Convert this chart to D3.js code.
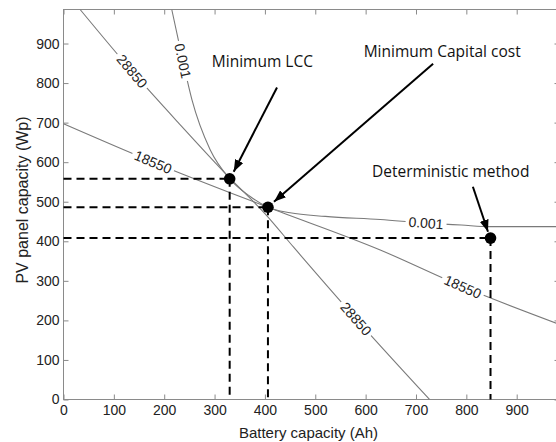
<!DOCTYPE html>
<html><head><meta charset="utf-8">
<script src="https://cdn.jsdelivr.net/npm/d3@7"></script>
<style>body{margin:0;background:#fff}svg{display:block}</style>
</head><body>
<svg id="chart" width="556" height="442"></svg>
<script>
// ---- data ----
const xTicks = [0,100,200,300,400,500,600,700,800,900];
const yTicks = [0,100,200,300,400,500,600,700,800,900];
const xLimits = [0, 985];
const yLimits = [0, 986];
const xLabel = "Battery capacity (Ah)";
const yLabel = "PV panel capacity (Wp)";

// contour lines [battery Ah, PV Wp]
const curve28850 = [[33,986],[136,830],[230,697],[330,560],[400,470],[457,385],[581,204],[727,0]];
const curve0001  = [[215,986],[237,856],[255,758],[291,632],[330,558],[370,514],[406,486],[450,472],[520,463],[629,455],[720,446],[790,441],[848,437],[985,437]];
const curve18550 = [[0,697],[178,600],[406,486],[629,378],[793,285],[985,190]];

const contourLabels = ["28850","0.001","18550","28850","18550","0.001"];
const contourLabelCurve = ["c28850","c0001","c18550","c28850","c18550","c0001"];
const contourLabelX = [136, 237, 178, 581, 793, 720];

// design points
const designX = [330, 406, 848];
const designY = [558, 486, 408];

// annotations
const annotationText = ["Minimum LCC","Minimum Capital cost","Deterministic method"];
const annotationX = [395, 752, 769];
const annotationY = [855, 880, 578];
const arrowFromX = [424, 734, 813];
const arrowFromY = [789, 849, 538];
const arrowToX = [338, 418, 843];
const arrowToY = [576, 500, 424];

// ---- drawing ----
const curves = {c28850: curve28850, c0001: curve0001, c18550: curve18550};
const svg = d3.select("#chart");
const L = 63.5, R = 559.5, T = 9.5, B = 399.5;
const x = d3.scaleLinear().domain(xLimits).range([L, R]);
const y = d3.scaleLinear().domain(yLimits).range([B, T]);
const gridGrey = "#8a8a8a";
const tickFont = "'Liberation Sans', Arial, sans-serif";

const defs = svg.append("defs");
defs.append("clipPath").attr("id","plotclip").append("rect")
  .attr("x", L).attr("y", T).attr("width", R-L).attr("height", B-T);
defs.append("marker").attr("id","arrowhead")
  .attr("markerUnits","userSpaceOnUse").attr("viewBox","0 0 12 9")
  .attr("markerWidth",12).attr("markerHeight",9)
  .attr("refX",12).attr("refY",4.5).attr("orient","auto")
  .append("path").attr("d","M0,0 L12,4.5 L0,9 Z").attr("fill","#000");

// axes
function styleAxis(g){
  g.select(".domain").remove();
  g.selectAll(".tick line").attr("stroke", gridGrey);
  g.selectAll(".tick text").attr("font-family", tickFont).attr("font-size", 14).attr("fill", "#222");
}
svg.append("g").attr("transform",`translate(0,${B})`)
  .call(d3.axisBottom(x).tickValues(xTicks).tickSizeInner(-5).tickSizeOuter(0).tickPadding(6))
  .call(styleAxis);
svg.append("g").attr("transform",`translate(${L},0)`)
  .call(d3.axisLeft(y).tickValues(yTicks).tickSizeInner(-5).tickSizeOuter(0).tickPadding(4))
  .call(styleAxis);
svg.append("g").attr("transform",`translate(0,${T})`)
  .call(d3.axisTop(x).tickValues(xTicks).tickSizeInner(-5).tickSizeOuter(0).tickFormat(""))
  .call(styleAxis);
svg.append("g").attr("transform",`translate(${R},0)`)
  .call(d3.axisRight(y).tickValues(yTicks).tickSizeInner(-5).tickSizeOuter(0).tickFormat(""))
  .call(styleAxis);
svg.append("rect").attr("x",L).attr("y",T).attr("width",R-L).attr("height",B-T)
  .attr("fill","none").attr("stroke",gridGrey).attr("stroke-width",1);

// axis labels
svg.append("text").attr("x", (L+R)/2 - 3).attr("y", 432).attr("text-anchor","middle")
  .attr("dominant-baseline","central")
  .attr("font-family", tickFont).attr("font-size", 15).attr("fill","#222").text(xLabel);
svg.append("text").attr("transform","translate(22,200) rotate(-90)").attr("text-anchor","middle")
  .attr("dominant-baseline","central")
  .attr("font-family", tickFont).attr("font-size", 16).attr("fill","#222").text(yLabel);

// contour lines
const plot = svg.append("g").attr("clip-path","url(#plotclip)");
const line = d3.line().x(d=>x(d[0])).y(d=>y(d[1])).curve(d3.curveMonotoneX);
Object.values(curves).forEach(c => {
  plot.append("path").datum(c).attr("d", line)
    .attr("fill","none").attr("stroke","#7a7a7a").attr("stroke-width",1.1);
});

// contour labels (inline)
contourLabels.forEach((t,i) => {
  const c = curves[contourLabelCurve[i]];
  const lx = contourLabelX[i];
  let k = 0;
  while (k < c.length-2 && c[k+1][0] < lx) k++;
  const a = c[k], b = c[k+1];
  const f = (lx - a[0])/(b[0]-a[0]);
  const ly = a[1] + f*(b[1]-a[1]);
  const ang = Math.atan2(y(b[1])-y(a[1]), x(b[0])-x(a[0])) * 180/Math.PI;
  const g = plot.append("g").attr("transform",`translate(${x(lx)},${y(ly)}) rotate(${ang})`);
  const bg = g.append("rect").attr("fill","#fff");
  const tx = g.append("text").attr("text-anchor","middle").attr("dominant-baseline","central")
    .attr("font-family", tickFont).attr("font-size", 14).attr("fill","#222").text(t);
  const w = tx.node().getComputedTextLength();
  bg.attr("x", -w/2-3).attr("y",-5.5).attr("width", w+6).attr("height", 11);
});

// dashed guide lines
designX.forEach((dx,i) => {
  const dy = designY[i];
  svg.append("line").attr("x1", x(0)).attr("x2", x(dx)).attr("y1", y(dy)).attr("y2", y(dy))
    .attr("stroke","#000").attr("stroke-width",2).attr("stroke-dasharray","8,5");
  svg.append("line").attr("x1", x(dx)).attr("x2", x(dx)).attr("y1", y(dy)).attr("y2", y(0))
    .attr("stroke","#000").attr("stroke-width",2).attr("stroke-dasharray","8,5");
});

// arrows
arrowFromX.forEach((fx,i) => {
  svg.append("line").attr("x1", x(fx)).attr("y1", y(arrowFromY[i]))
    .attr("x2", x(arrowToX[i])).attr("y2", y(arrowToY[i]))
    .attr("stroke","#000").attr("stroke-width",2).attr("marker-end","url(#arrowhead)");
});

// design points
svg.selectAll("circle.pt").data(designX).enter().append("circle").attr("class","pt")
  .attr("cx", d=>x(d)).attr("cy", (d,i)=>y(designY[i])).attr("r",5.8).attr("fill","#000");

// annotation text
annotationText.forEach((t,i) => {
  svg.append("text").attr("x", x(annotationX[i])).attr("y", y(annotationY[i]))
    .attr("text-anchor","middle").attr("dominant-baseline","central")
    .attr("font-family","'Open Sans', sans-serif").attr("font-size",15.5).attr("fill","#111").text(t);
});
</script>
</body></html>
